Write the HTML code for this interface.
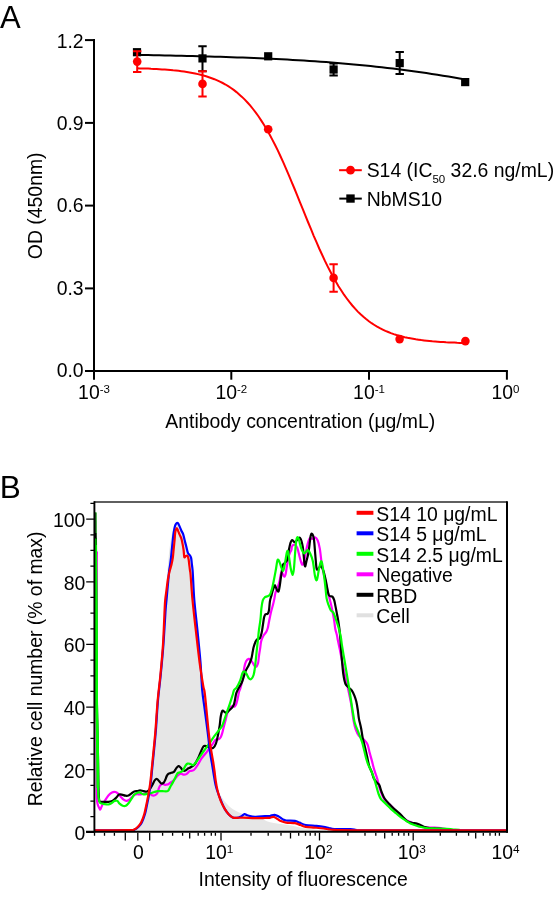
<!DOCTYPE html><html><head><meta charset="utf-8"><style>html,body{margin:0;padding:0;background:#fff;}svg{display:block;will-change:transform;}text{font-family:"Liberation Sans",sans-serif;fill:#000;}</style></head><body>
<svg width="560" height="905" viewBox="0 0 560 905">
<rect width="560" height="905" fill="#fff"/>
<text x="0" y="27.7" font-size="31">A</text>
<g stroke="#000" stroke-width="2" fill="none">
<path d="M94,39.1 V379.7"/>
<path d="M85,370.9 H507.9"/>
<path d="M85,40.1 H94"/>
<path d="M85,122.9 H94"/>
<path d="M85,205.6 H94"/>
<path d="M85,288.4 H94"/>
<path d="M231.3,370.9 V379.7"/>
<path d="M369,370.9 V379.7"/>
<path d="M506.9,370.9 V379.7"/>
</g>
<text x="83.6" y="47.8" font-size="19.4" text-anchor="end">1.2</text>
<text x="83.6" y="129.7" font-size="19.4" text-anchor="end">0.9</text>
<text x="83.6" y="212.1" font-size="19.4" text-anchor="end">0.6</text>
<text x="83.6" y="294.7" font-size="19.4" text-anchor="end">0.3</text>
<text x="83.6" y="376.7" font-size="19.4" text-anchor="end">0.0</text>
<text x="94" y="398.9" font-size="19.4" text-anchor="middle">10<tspan font-size="11.5" dy="-6">-3</tspan></text>
<text x="231.3" y="398.9" font-size="19.4" text-anchor="middle">10<tspan font-size="11.5" dy="-6">-2</tspan></text>
<text x="369" y="398.9" font-size="19.4" text-anchor="middle">10<tspan font-size="11.5" dy="-6">-1</tspan></text>
<text x="505.4" y="398.9" font-size="19.4" text-anchor="middle">10<tspan font-size="11.5" dy="-6">0</tspan></text>
<text x="165.3" y="427.9" font-size="19.4">Antibody concentration (μg/mL)</text>
<text transform="translate(41.8,205.8) rotate(-90)" font-size="19.4" text-anchor="middle">OD (450nm)</text>
<path d="M137.0,54.9 L142.6,55.0 L148.1,55.1 L153.7,55.2 L159.3,55.3 L164.8,55.4 L170.4,55.6 L175.9,55.7 L181.5,55.8 L187.1,55.9 L192.6,56.1 L198.2,56.2 L203.8,56.4 L209.3,56.5 L214.9,56.7 L220.4,56.8 L226.0,57.0 L231.6,57.2 L237.1,57.4 L242.7,57.6 L248.3,57.8 L253.8,58.0 L259.4,58.3 L264.9,58.5 L270.5,58.8 L276.1,59.0 L281.6,59.3 L287.2,59.6 L292.8,59.9 L298.3,60.2 L303.9,60.6 L309.4,60.9 L315.0,61.3 L320.6,61.7 L326.1,62.1 L331.7,62.5 L337.3,63.0 L342.8,63.4 L348.4,63.9 L353.9,64.4 L359.5,65.0 L365.1,65.5 L370.6,66.1 L376.2,66.7 L381.8,67.3 L387.3,67.9 L392.9,68.6 L398.4,69.3 L404.0,70.0 L409.6,70.7 L415.1,71.5 L420.7,72.3 L426.3,73.1 L431.8,73.9 L437.4,74.8 L442.9,75.7 L448.5,76.6 L454.1,77.6 L459.6,78.6 L465.2,79.6" stroke="#000" stroke-width="2" fill="none"/>
<path d="M137.2,68.3 L140.0,68.4 L142.7,68.4 L145.5,68.5 L148.2,68.6 L151.0,68.8 L153.7,68.9 L156.5,69.0 L159.3,69.2 L162.0,69.4 L164.8,69.6 L167.5,69.8 L170.3,70.0 L173.1,70.3 L175.8,70.5 L178.6,70.8 L181.3,71.2 L184.1,71.6 L186.8,72.0 L189.6,72.4 L192.4,72.9 L195.1,73.5 L197.9,74.1 L200.6,74.8 L203.4,75.5 L206.1,76.3 L208.9,77.2 L211.7,78.2 L214.4,79.2 L217.2,80.4 L219.9,81.6 L222.7,83.0 L225.5,84.5 L228.2,86.2 L231.0,88.0 L233.7,89.9 L236.5,92.1 L239.2,94.4 L242.0,96.9 L244.8,99.6 L247.5,102.5 L250.3,105.6 L253.0,109.0 L255.8,112.6 L258.6,116.5 L261.3,120.6 L264.1,124.9 L266.8,129.6 L269.6,134.5 L272.3,139.6 L275.1,145.0 L277.9,150.6 L280.6,156.5 L283.4,162.6 L286.1,168.8 L288.9,175.3 L291.6,181.8 L294.4,188.5 L297.2,195.3 L299.9,202.1 L302.7,208.9 L305.4,215.7 L308.2,222.5 L311.0,229.2 L313.7,235.8 L316.5,242.2 L319.2,248.5 L322.0,254.5 L324.7,260.4 L327.5,266.1 L330.3,271.5 L333.0,276.6 L335.8,281.5 L338.5,286.2 L341.3,290.5 L344.0,294.7 L346.8,298.5 L349.6,302.2 L352.3,305.5 L355.1,308.7 L357.8,311.6 L360.6,314.3 L363.4,316.8 L366.1,319.1 L368.9,321.3 L371.6,323.2 L374.4,325.0 L377.1,326.7 L379.9,328.2 L382.7,329.6 L385.4,330.9 L388.2,332.0 L390.9,333.1 L393.7,334.1 L396.5,335.0 L399.2,335.8 L402.0,336.5 L404.7,337.2 L407.5,337.8 L410.2,338.3 L413.0,338.8 L415.8,339.3 L418.5,339.7 L421.3,340.1 L424.0,340.4 L426.8,340.7 L429.5,341.0 L432.3,341.3 L435.1,341.5 L437.8,341.7 L440.6,341.9 L443.3,342.1 L446.1,342.3 L448.9,342.4 L451.6,342.5 L454.4,342.6 L457.1,342.8 L459.9,342.9 L462.6,342.9 L465.4,343.0" stroke="#f00" stroke-width="2" fill="none"/>
<path d="M202.5,46.2 V71.3 M198.3,46.2 H206.7 M198.3,71.3 H206.7" stroke="#000" stroke-width="2" fill="none"/>
<path d="M333.6,63.6 V75.6 M329.40000000000003,63.6 H337.8 M329.40000000000003,75.6 H337.8" stroke="#000" stroke-width="2" fill="none"/>
<path d="M399.7,52.1 V74.1 M395.5,52.1 H403.9 M395.5,74.1 H403.9" stroke="#000" stroke-width="2" fill="none"/>
<rect x="132.9" y="48.1" width="8.2" height="8.2" fill="#000"/>
<rect x="198.4" y="54.3" width="8.2" height="8.2" fill="#000"/>
<rect x="264.1" y="52.2" width="8.2" height="8.2" fill="#000"/>
<rect x="329.5" y="65.4" width="8.2" height="8.2" fill="#000"/>
<rect x="395.6" y="59.0" width="8.2" height="8.2" fill="#000"/>
<rect x="461.1" y="78.0" width="8.2" height="8.2" fill="#000"/>
<path d="M137.2,51.3 V72.1 M133.0,51.3 H141.39999999999998 M133.0,72.1 H141.39999999999998" stroke="#f00" stroke-width="2" fill="none"/>
<path d="M202.5,71.3 V96.5 M198.3,71.3 H206.7 M198.3,96.5 H206.7" stroke="#f00" stroke-width="2" fill="none"/>
<path d="M333.6,264.3 V291.8 M329.40000000000003,264.3 H337.8 M329.40000000000003,291.8 H337.8" stroke="#f00" stroke-width="2" fill="none"/>
<circle cx="137.2" cy="61.6" r="4.3" fill="#f00"/>
<circle cx="202.5" cy="83.9" r="4.3" fill="#f00"/>
<circle cx="268.2" cy="129.3" r="4.3" fill="#f00"/>
<circle cx="333.6" cy="277.9" r="4.3" fill="#f00"/>
<circle cx="399.6" cy="339.1" r="4.3" fill="#f00"/>
<circle cx="465.4" cy="341.1" r="4.3" fill="#f00"/>
<path d="M339.1,170.2 H361.8" stroke="#f00" stroke-width="2"/>
<circle cx="350.5" cy="170.2" r="4.4" fill="#f00"/>
<text x="366.7" y="177.2" font-size="19.4">S14 (IC<tspan font-size="11.5" dy="6">50</tspan><tspan dy="-6"> 32.6 ng/mL)</tspan></text>
<path d="M339.3,198.6 H361.8" stroke="#000" stroke-width="2"/>
<rect x="346.3" y="194.4" width="8.4" height="8.3" fill="#000"/>
<text x="366.7" y="206.2" font-size="19.4">NbMS10</text>
<text x="-0.3" y="498" font-size="31.5">B</text><path d="M95.00,831.50 C101.00,831.42 124.33,831.28 131.00,831.00 C137.67,830.72 133.67,830.63 135.00,829.80 C136.33,828.97 137.75,827.97 139.00,826.00 C140.25,824.03 141.50,821.00 142.50,818.00 C143.50,815.00 144.25,811.50 145.00,808.00 C145.75,804.50 146.33,800.83 147.00,797.00 C147.67,793.17 148.37,789.83 149.00,785.00 C149.63,780.17 150.22,773.83 150.80,768.00 C151.38,762.17 151.88,756.33 152.50,750.00 C153.12,743.67 153.78,738.33 154.50,730.00 C155.22,721.67 155.97,709.17 156.80,700.00 C157.63,690.83 158.63,684.17 159.50,675.00 C160.37,665.83 161.17,655.83 162.00,645.00 C162.83,634.17 163.83,619.17 164.50,610.00 C165.17,600.83 165.57,595.83 166.00,590.00 C166.43,584.17 166.55,581.55 167.10,575.00 C167.65,568.45 168.58,557.13 169.30,550.70 C170.02,544.27 170.78,539.85 171.40,536.40 C172.02,532.95 172.52,531.65 173.00,530.00 C173.48,528.35 173.90,527.33 174.30,526.50 C174.70,525.67 174.80,525.50 175.40,525.00 C176.00,524.50 177.20,523.27 177.90,523.50 C178.60,523.73 179.02,525.20 179.60,526.40 C180.18,527.60 180.80,529.38 181.40,530.70 C182.00,532.02 182.67,532.75 183.20,534.30 C183.73,535.85 184.07,537.87 184.60,540.00 C185.13,542.13 185.85,544.95 186.40,547.10 C186.95,549.25 187.37,551.58 187.90,552.90 C188.43,554.22 189.07,554.17 189.60,555.00 C190.13,555.83 190.73,556.47 191.10,557.90 C191.47,559.33 191.57,561.70 191.80,563.60 C192.03,565.50 192.32,567.40 192.50,569.30 C192.68,571.20 192.60,569.88 192.90,575.00 C193.20,580.12 193.52,590.50 194.30,600.00 C195.08,609.50 196.57,621.58 197.60,632.00 C198.63,642.42 199.52,653.17 200.50,662.50 C201.48,671.83 202.53,680.08 203.50,688.00 C204.47,695.92 205.52,703.42 206.30,710.00 C207.08,716.58 207.58,722.00 208.20,727.50 C208.82,733.00 209.40,738.58 210.00,743.00 C210.60,747.42 211.22,750.50 211.80,754.00 C212.38,757.50 212.83,759.72 213.50,764.00 C214.17,768.28 214.88,775.03 215.80,779.70 C216.72,784.37 217.80,788.78 219.00,792.00 C220.20,795.22 221.67,797.00 223.00,799.00 C224.33,801.00 225.52,802.40 227.00,804.00 C228.48,805.60 230.40,807.43 231.90,808.60 C233.40,809.77 234.40,810.20 236.00,811.00 C237.60,811.80 239.25,812.73 241.50,813.40 C243.75,814.07 246.42,814.32 249.50,815.00 C252.58,815.68 256.58,816.28 260.00,817.50 C263.42,818.72 265.35,821.05 270.00,822.30 C274.65,823.55 281.95,823.97 287.90,825.00 C293.85,826.03 299.75,827.62 305.70,828.50 C311.65,829.38 314.55,829.88 323.60,830.30 C332.65,830.72 329.43,830.85 360.00,831.00 C390.57,831.15 482.50,831.17 507.00,831.20 L507,832 L95,832 Z" fill="#e6e6e6" stroke="none"/>
<path d="M96.90,551.60 C96.85,554.00 96.67,551.27 96.60,566.00 C96.53,580.73 96.50,617.67 96.50,640.00 C96.50,662.33 96.57,680.00 96.60,700.00 C96.63,720.00 96.67,744.17 96.70,760.00 C96.73,775.83 96.65,787.67 96.80,795.00 C96.95,802.33 97.15,801.75 97.60,804.00 C98.05,806.25 99.03,807.60 99.50,808.50 C99.97,809.40 99.97,809.92 100.40,809.40 C100.83,808.88 101.37,806.82 102.10,805.40 C102.83,803.98 103.75,802.55 104.80,800.90 C105.85,799.25 107.20,796.92 108.40,795.50 C109.60,794.08 110.82,792.98 112.00,792.40 C113.18,791.82 114.47,791.77 115.50,792.00 C116.53,792.23 117.30,792.98 118.20,793.80 C119.10,794.62 120.00,795.93 120.90,796.90 C121.80,797.87 122.70,798.93 123.60,799.60 C124.50,800.27 125.42,800.83 126.30,800.90 C127.18,800.97 128.02,800.60 128.90,800.00 C129.78,799.40 130.70,798.12 131.60,797.30 C132.50,796.48 133.40,795.62 134.30,795.10 C135.20,794.58 136.05,794.32 137.00,794.20 C137.95,794.08 138.90,794.47 140.00,794.40 C141.10,794.33 142.42,793.90 143.60,793.80 C144.78,793.70 146.07,793.80 147.10,793.80 C148.13,793.80 148.90,793.52 149.80,793.80 C150.70,794.08 151.60,795.28 152.50,795.50 C153.40,795.72 154.38,795.53 155.20,795.10 C156.02,794.67 156.80,794.02 157.40,792.90 C158.00,791.78 158.35,789.60 158.80,788.40 C159.25,787.20 159.52,786.45 160.10,785.70 C160.68,784.95 161.48,784.05 162.30,783.90 C163.12,783.75 164.10,784.72 165.00,784.80 C165.90,784.88 166.88,784.70 167.70,784.40 C168.52,784.10 169.17,783.45 169.90,783.00 C170.63,782.55 171.35,782.28 172.10,781.70 C172.85,781.12 173.65,780.32 174.40,779.50 C175.15,778.68 175.87,777.62 176.60,776.80 C177.33,775.98 178.05,775.12 178.80,774.60 C179.55,774.08 180.27,773.70 181.10,773.70 C181.93,773.70 182.92,774.53 183.80,774.60 C184.68,774.67 185.58,774.55 186.40,774.10 C187.22,773.65 188.10,772.42 188.70,771.90 C189.30,771.38 189.13,771.32 190.00,771.00 C190.87,770.68 192.62,771.00 193.90,770.00 C195.18,769.00 196.45,766.90 197.70,765.00 C198.95,763.10 200.07,760.57 201.40,758.60 C202.73,756.63 204.45,754.80 205.70,753.20 C206.95,751.60 207.82,750.42 208.90,749.00 C209.98,747.58 211.12,746.23 212.20,744.70 C213.28,743.17 214.33,740.70 215.40,739.80 C216.47,738.90 217.72,739.73 218.60,739.30 C219.48,738.87 220.08,738.27 220.70,737.20 C221.32,736.13 221.77,734.70 222.30,732.90 C222.83,731.10 223.35,728.55 223.90,726.40 C224.45,724.25 225.05,722.13 225.60,720.00 C226.15,717.87 226.58,715.57 227.20,713.60 C227.82,711.63 228.42,709.45 229.30,708.20 C230.18,706.95 231.60,706.37 232.50,706.10 C233.40,705.83 234.07,706.97 234.70,706.60 C235.33,706.23 235.77,705.42 236.30,703.90 C236.83,702.38 237.45,699.48 237.90,697.50 C238.35,695.52 238.55,693.67 239.00,692.00 C239.45,690.33 239.95,689.88 240.60,687.50 C241.25,685.12 242.30,680.97 242.90,677.70 C243.50,674.43 243.68,670.58 244.20,667.90 C244.72,665.22 245.25,663.10 246.00,661.60 C246.75,660.10 247.88,659.12 248.70,658.90 C249.52,658.68 250.17,659.55 250.90,660.30 C251.63,661.05 252.58,662.58 253.10,663.40 C253.62,664.22 253.55,664.60 254.00,665.20 C254.45,665.80 255.13,667.30 255.80,667.00 C256.47,666.70 257.48,665.18 258.00,663.40 C258.52,661.62 258.52,658.98 258.90,656.30 C259.28,653.62 259.92,649.83 260.30,647.30 C260.68,644.77 260.68,643.03 261.20,641.10 C261.72,639.17 262.58,637.20 263.40,635.70 C264.22,634.20 265.37,633.38 266.10,632.10 C266.83,630.82 267.35,629.57 267.80,628.00 C268.25,626.43 268.30,625.22 268.80,622.70 C269.30,620.18 270.10,615.88 270.80,612.90 C271.50,609.92 272.40,607.18 273.00,604.80 C273.60,602.42 274.00,600.57 274.40,598.60 C274.80,596.63 274.87,594.85 275.40,593.00 C275.93,591.15 276.92,589.45 277.60,587.50 C278.28,585.55 278.97,583.48 279.50,581.30 C280.03,579.12 280.38,575.87 280.80,574.40 C281.22,572.93 281.48,572.18 282.00,572.50 C282.52,572.82 283.33,575.88 283.90,576.30 C284.47,576.72 284.88,576.78 285.40,575.00 C285.92,573.22 286.52,568.42 287.00,565.60 C287.48,562.78 287.83,560.18 288.30,558.10 C288.77,556.02 289.28,554.45 289.80,553.10 C290.32,551.75 291.03,551.12 291.40,550.00 C291.77,548.88 291.45,547.27 292.00,546.40 C292.55,545.53 293.82,544.53 294.70,544.80 C295.58,545.07 296.42,545.77 297.30,548.00 C298.18,550.23 299.18,555.42 300.00,558.20 C300.82,560.98 301.48,564.33 302.20,564.70 C302.92,565.07 303.50,563.45 304.30,560.40 C305.10,557.35 306.10,550.07 307.00,546.40 C307.90,542.73 308.82,539.65 309.70,538.40 C310.58,537.15 311.42,539.08 312.30,538.90 C313.18,538.72 314.10,537.03 315.00,537.30 C315.90,537.57 316.90,538.62 317.70,540.50 C318.50,542.38 319.17,545.02 319.80,548.60 C320.43,552.18 320.97,558.32 321.50,562.00 C322.03,565.68 322.37,567.62 323.00,570.70 C323.63,573.78 324.55,577.22 325.30,580.50 C326.05,583.78 326.77,587.27 327.50,590.40 C328.23,593.53 329.03,596.63 329.70,599.30 C330.37,601.97 330.97,604.02 331.50,606.40 C332.03,608.78 332.45,611.22 332.90,613.60 C333.35,615.98 333.80,618.13 334.20,620.70 C334.60,623.27 334.85,626.62 335.30,629.00 C335.75,631.38 336.48,633.17 336.90,635.00 C337.32,636.83 337.30,637.52 337.80,640.00 C338.30,642.48 339.13,646.10 339.90,649.90 C340.67,653.70 341.57,658.67 342.40,662.80 C343.23,666.93 344.07,670.88 344.90,674.70 C345.73,678.52 346.57,681.88 347.40,685.70 C348.23,689.52 349.23,694.30 349.90,697.60 C350.57,700.90 350.78,701.65 351.40,705.50 C352.02,709.35 352.88,716.73 353.60,720.70 C354.32,724.67 354.82,726.80 355.70,729.30 C356.58,731.80 357.47,733.92 358.90,735.70 C360.33,737.48 362.87,738.57 364.30,740.00 C365.73,741.43 366.60,742.15 367.50,744.30 C368.40,746.45 368.98,750.22 369.70,752.90 C370.42,755.58 371.18,758.08 371.80,760.40 C372.42,762.72 372.87,764.83 373.40,766.80 C373.93,768.77 374.37,770.23 375.00,772.20 C375.63,774.17 376.48,776.10 377.20,778.60 C377.92,781.10 378.50,784.52 379.30,787.20 C380.10,789.88 381.13,792.65 382.00,794.70 C382.87,796.75 383.52,798.17 384.50,799.50 C385.48,800.83 386.53,801.37 387.90,802.70 C389.27,804.03 391.23,805.90 392.70,807.50 C394.17,809.10 395.37,810.82 396.70,812.30 C398.03,813.78 399.23,815.18 400.70,816.40 C402.17,817.62 403.88,818.67 405.50,819.60 C407.12,820.53 408.78,821.20 410.40,822.00 C412.02,822.80 413.60,823.65 415.20,824.40 C416.80,825.15 418.13,825.97 420.00,826.50 C421.87,827.03 423.98,827.42 426.40,827.60 C428.82,827.78 432.08,827.52 434.50,827.60 C436.92,827.68 438.65,827.78 440.90,828.10 C443.15,828.42 446.82,829.27 448.00,829.50" stroke="#ff00ff" stroke-width="2.2" fill="none" stroke-linejoin="round"/>
<path d="M95.90,538.00 C95.97,548.33 96.18,576.33 96.30,600.00 C96.42,623.67 96.45,660.00 96.60,680.00 C96.75,700.00 96.98,708.33 97.20,720.00 C97.42,731.67 97.72,740.83 97.90,750.00 C98.08,759.17 98.18,768.00 98.30,775.00 C98.42,782.00 98.45,787.75 98.60,792.00 C98.75,796.25 98.90,798.87 99.20,800.50 C99.50,802.13 99.62,801.58 100.40,801.80 C101.18,802.02 102.57,801.80 103.90,801.80 C105.23,801.80 107.13,801.88 108.40,801.80 C109.67,801.72 110.53,801.67 111.50,801.30 C112.47,800.93 113.30,800.33 114.20,799.60 C115.10,798.87 116.08,797.73 116.90,796.90 C117.72,796.07 118.28,794.98 119.10,794.60 C119.92,794.22 120.75,794.42 121.80,794.60 C122.85,794.78 124.28,795.55 125.40,795.70 C126.52,795.85 127.47,795.90 128.50,795.50 C129.53,795.10 130.63,793.97 131.60,793.30 C132.57,792.63 133.33,791.87 134.30,791.50 C135.27,791.13 136.45,791.28 137.40,791.10 C138.35,790.92 138.97,790.40 140.00,790.40 C141.03,790.40 142.42,790.92 143.60,791.10 C144.78,791.28 146.07,791.80 147.10,791.50 C148.13,791.20 148.90,790.42 149.80,789.30 C150.70,788.18 151.68,786.28 152.50,784.80 C153.32,783.32 153.95,781.37 154.70,780.40 C155.45,779.43 156.25,778.85 157.00,779.00 C157.75,779.15 158.47,780.55 159.20,781.30 C159.93,782.05 160.65,783.28 161.40,783.50 C162.15,783.72 163.03,783.27 163.70,782.60 C164.37,781.93 164.88,780.62 165.40,779.50 C165.92,778.38 166.27,776.87 166.80,775.90 C167.33,774.93 167.85,774.22 168.60,773.70 C169.35,773.18 170.42,773.10 171.30,772.80 C172.18,772.50 173.08,772.65 173.90,771.90 C174.72,771.15 175.45,769.27 176.20,768.30 C176.95,767.33 177.67,766.23 178.40,766.10 C179.13,765.97 179.83,766.77 180.60,767.50 C181.37,768.23 182.18,770.00 183.00,770.50 C183.82,771.00 184.67,770.83 185.50,770.50 C186.33,770.17 187.13,769.05 188.00,768.50 C188.87,767.95 189.62,767.87 190.70,767.20 C191.78,766.53 193.33,765.85 194.50,764.50 C195.67,763.15 196.63,761.25 197.70,759.10 C198.77,756.95 199.92,753.73 200.90,751.60 C201.88,749.47 202.62,747.18 203.60,746.30 C204.58,745.42 205.73,746.03 206.80,746.30 C207.87,746.57 208.93,747.63 210.00,747.90 C211.07,748.17 212.22,748.62 213.20,747.90 C214.18,747.18 215.10,745.75 215.90,743.60 C216.70,741.45 217.37,738.03 218.00,735.00 C218.63,731.97 219.25,728.43 219.70,725.40 C220.15,722.37 220.27,719.22 220.70,716.80 C221.13,714.38 221.77,711.80 222.30,710.90 C222.83,710.00 223.27,711.05 223.90,711.40 C224.53,711.75 225.38,713.00 226.10,713.00 C226.82,713.00 227.48,712.02 228.20,711.40 C228.92,710.78 229.68,710.02 230.40,709.30 C231.12,708.58 231.88,708.00 232.50,707.10 C233.12,706.20 233.65,705.32 234.10,703.90 C234.55,702.48 234.83,700.38 235.20,698.60 C235.57,696.82 235.77,694.90 236.30,693.20 C236.83,691.50 237.45,690.25 238.40,688.40 C239.35,686.55 240.82,684.93 242.00,682.10 C243.18,679.27 244.38,674.22 245.50,671.40 C246.62,668.58 247.73,667.28 248.70,665.20 C249.67,663.12 250.63,661.13 251.30,658.90 C251.97,656.67 252.32,653.73 252.70,651.80 C253.08,649.87 253.15,648.93 253.60,647.30 C254.05,645.67 254.82,643.33 255.40,642.00 C255.98,640.67 256.37,639.90 257.10,639.30 C257.83,638.70 259.05,639.45 259.80,638.40 C260.55,637.35 261.08,635.23 261.60,633.00 C262.12,630.77 262.48,627.62 262.90,625.00 C263.32,622.38 263.68,619.10 264.10,617.30 C264.52,615.50 264.80,614.78 265.40,614.20 C266.00,613.62 267.10,614.47 267.70,613.80 C268.30,613.13 268.63,612.28 269.00,610.20 C269.37,608.12 269.52,603.68 269.90,601.30 C270.28,598.92 270.85,597.62 271.30,595.90 C271.75,594.18 272.07,592.72 272.60,591.00 C273.13,589.28 274.03,586.38 274.50,585.60 C274.97,584.82 274.98,585.57 275.40,586.30 C275.82,587.03 276.47,589.17 277.00,590.00 C277.53,590.83 278.13,592.03 278.60,591.30 C279.07,590.57 279.43,587.80 279.80,585.60 C280.17,583.40 280.48,580.38 280.80,578.10 C281.12,575.82 281.40,573.98 281.70,571.90 C282.00,569.82 282.23,566.95 282.60,565.60 C282.97,564.25 283.37,564.42 283.90,563.80 C284.43,563.18 285.23,562.63 285.80,561.90 C286.37,561.17 286.78,561.38 287.30,559.40 C287.82,557.42 288.40,552.65 288.90,550.00 C289.40,547.35 289.78,545.17 290.30,543.50 C290.82,541.83 291.27,540.23 292.00,540.00 C292.73,539.77 293.82,542.10 294.70,542.10 C295.58,542.10 296.42,540.70 297.30,540.00 C298.18,539.30 299.10,536.83 300.00,537.90 C300.90,538.97 301.90,541.77 302.70,546.40 C303.50,551.03 304.18,563.20 304.80,565.70 C305.42,568.20 305.77,563.72 306.40,561.40 C307.03,559.08 307.88,556.08 308.60,551.80 C309.32,547.52 310.08,538.65 310.70,535.70 C311.32,532.75 311.77,533.57 312.30,534.10 C312.83,534.63 313.40,535.42 313.90,538.90 C314.40,542.38 314.87,550.15 315.30,555.00 C315.73,559.85 316.10,565.58 316.50,568.00 C316.90,570.42 317.18,569.67 317.70,569.50 C318.22,569.33 319.00,567.50 319.60,567.00 C320.20,566.50 320.65,565.83 321.30,566.50 C321.95,567.17 322.77,568.75 323.50,571.00 C324.23,573.25 324.88,576.18 325.70,580.00 C326.52,583.82 327.65,591.20 328.40,593.90 C329.15,596.60 329.53,595.75 330.20,596.20 C330.87,596.65 331.73,595.93 332.40,596.60 C333.07,597.27 333.68,598.57 334.20,600.20 C334.72,601.83 335.05,604.17 335.50,606.40 C335.95,608.63 336.45,611.22 336.90,613.60 C337.35,615.98 337.78,618.13 338.20,620.70 C338.62,623.27 339.05,626.12 339.40,629.00 C339.75,631.88 339.88,632.87 340.30,638.00 C340.72,643.13 341.38,653.68 341.90,659.80 C342.42,665.92 342.82,670.72 343.40,674.70 C343.98,678.68 344.48,681.53 345.40,683.70 C346.32,685.87 347.82,686.55 348.90,687.70 C349.98,688.85 350.98,689.28 351.90,690.60 C352.82,691.92 353.67,693.77 354.40,695.60 C355.13,697.43 355.73,699.20 356.30,701.60 C356.87,704.00 357.37,707.17 357.80,710.00 C358.23,712.83 358.35,715.57 358.90,718.60 C359.45,721.63 360.47,724.98 361.10,728.20 C361.73,731.42 362.08,734.87 362.70,737.90 C363.32,740.93 364.08,743.37 364.80,746.40 C365.52,749.43 366.28,752.88 367.00,756.10 C367.72,759.32 368.30,763.02 369.10,765.70 C369.90,768.38 371.00,770.05 371.80,772.20 C372.60,774.35 373.00,776.82 373.90,778.60 C374.80,780.38 376.30,781.83 377.20,782.90 C378.10,783.97 378.57,783.48 379.30,785.00 C380.03,786.52 380.72,789.75 381.60,792.00 C382.48,794.25 383.28,796.45 384.60,798.50 C385.92,800.55 387.88,802.53 389.50,804.30 C391.12,806.07 392.70,807.63 394.30,809.10 C395.90,810.57 397.63,811.75 399.10,813.10 C400.57,814.45 401.75,815.85 403.10,817.20 C404.45,818.55 405.72,820.27 407.20,821.20 C408.68,822.13 410.40,822.40 412.00,822.80 C413.60,823.20 415.33,823.20 416.80,823.60 C418.27,824.00 419.47,824.62 420.80,825.20 C422.13,825.78 423.32,826.62 424.80,827.10 C426.28,827.58 428.08,827.88 429.70,828.10 C431.32,828.32 432.90,828.30 434.50,828.40 C436.10,828.50 437.55,828.52 439.30,828.70 C441.05,828.88 444.05,829.37 445.00,829.50" stroke="#000" stroke-width="2.2" fill="none" stroke-linejoin="round"/>
<path d="M95.30,512.60 C95.33,518.00 95.40,533.77 95.50,545.00 C95.60,556.23 95.77,567.50 95.90,580.00 C96.03,592.50 96.21,606.67 96.30,620.00 C96.39,633.33 96.40,646.67 96.45,660.00 C96.50,673.33 96.47,688.33 96.60,700.00 C96.72,711.67 97.02,720.00 97.20,730.00 C97.38,740.00 97.58,750.83 97.70,760.00 C97.82,769.17 97.78,779.00 97.90,785.00 C98.02,791.00 98.15,793.28 98.40,796.00 C98.65,798.72 99.07,800.12 99.40,801.30 C99.73,802.48 99.65,802.65 100.40,803.10 C101.15,803.55 102.57,803.77 103.90,804.00 C105.23,804.23 107.13,804.65 108.40,804.50 C109.67,804.35 110.47,803.70 111.50,803.10 C112.53,802.50 113.63,801.27 114.60,800.90 C115.57,800.53 116.47,800.45 117.30,800.90 C118.13,801.35 118.70,802.78 119.60,803.60 C120.50,804.42 121.67,805.43 122.70,805.80 C123.73,806.17 124.77,806.32 125.80,805.80 C126.83,805.28 127.93,803.88 128.90,802.70 C129.87,801.52 130.70,800.05 131.60,798.70 C132.50,797.35 133.40,795.57 134.30,794.60 C135.20,793.63 136.12,793.27 137.00,792.90 C137.88,792.53 138.50,792.15 139.60,792.40 C140.70,792.65 142.35,794.17 143.60,794.40 C144.85,794.63 145.92,793.98 147.10,793.80 C148.28,793.62 149.50,793.60 150.70,793.30 C151.90,793.00 153.10,792.37 154.30,792.00 C155.50,791.63 156.57,791.25 157.90,791.10 C159.23,790.95 160.67,791.10 162.30,791.10 C163.93,791.10 166.35,791.85 167.70,791.10 C169.05,790.35 169.52,788.10 170.40,786.60 C171.28,785.10 172.18,783.58 173.00,782.10 C173.82,780.62 174.55,779.18 175.30,777.70 C176.05,776.22 176.68,774.10 177.50,773.20 C178.32,772.30 179.30,772.75 180.20,772.30 C181.10,771.85 182.02,771.62 182.90,770.50 C183.78,769.38 184.72,766.75 185.50,765.60 C186.28,764.45 186.77,763.87 187.60,763.60 C188.43,763.33 189.53,763.77 190.50,764.00 C191.47,764.23 192.30,765.55 193.40,765.00 C194.50,764.45 195.77,762.48 197.10,760.70 C198.43,758.92 199.97,756.35 201.40,754.30 C202.83,752.25 204.27,750.37 205.70,748.40 C207.13,746.43 208.57,744.55 210.00,742.50 C211.43,740.45 212.87,738.07 214.30,736.10 C215.73,734.13 217.27,732.48 218.60,730.70 C219.93,728.92 221.23,727.53 222.30,725.40 C223.37,723.27 224.18,720.23 225.00,717.90 C225.82,715.57 226.40,713.73 227.20,711.40 C228.00,709.07 228.92,706.57 229.80,703.90 C230.68,701.23 231.78,697.72 232.50,695.40 C233.22,693.08 233.42,691.32 234.10,690.00 C234.78,688.68 235.58,689.10 236.60,687.50 C237.62,685.90 239.23,682.78 240.20,680.40 C241.17,678.02 241.73,674.70 242.40,673.20 C243.07,671.70 243.53,671.32 244.20,671.40 C244.87,671.48 245.58,672.50 246.40,673.70 C247.22,674.90 248.28,677.72 249.10,678.60 C249.92,679.48 250.55,679.60 251.30,679.00 C252.05,678.40 253.00,676.85 253.60,675.00 C254.20,673.15 254.53,670.43 254.90,667.90 C255.27,665.37 255.50,662.63 255.80,659.80 C256.10,656.97 256.33,654.32 256.70,650.90 C257.07,647.48 257.63,642.72 258.00,639.30 C258.37,635.88 258.48,633.77 258.90,630.40 C259.32,627.03 260.08,622.77 260.50,619.10 C260.92,615.43 261.02,611.52 261.40,608.40 C261.78,605.28 262.20,602.27 262.80,600.40 C263.40,598.53 264.22,597.88 265.00,597.20 C265.78,596.52 266.65,596.77 267.50,596.30 C268.35,595.83 269.35,595.65 270.10,594.40 C270.85,593.15 271.37,591.20 272.00,588.80 C272.63,586.40 273.27,583.13 273.90,580.00 C274.53,576.87 275.18,573.33 275.80,570.00 C276.42,566.67 276.98,561.35 277.60,560.00 C278.22,558.65 278.87,560.65 279.50,561.90 C280.13,563.15 280.77,566.05 281.40,567.50 C282.03,568.95 282.68,571.43 283.30,570.60 C283.92,569.77 284.53,565.42 285.10,562.50 C285.67,559.58 286.25,555.02 286.70,553.10 C287.15,551.18 287.43,550.47 287.80,551.00 C288.17,551.53 288.40,553.33 288.90,556.30 C289.40,559.27 290.18,565.68 290.80,568.80 C291.42,571.92 292.08,575.00 292.60,575.00 C293.12,575.00 293.48,572.47 293.90,568.80 C294.32,565.13 294.72,557.63 295.10,553.00 C295.48,548.37 295.83,543.62 296.20,541.00 C296.57,538.38 296.85,537.55 297.30,537.30 C297.75,537.05 298.27,537.72 298.90,539.50 C299.53,541.28 300.20,545.68 301.10,548.00 C302.00,550.32 303.23,553.03 304.30,553.40 C305.37,553.77 306.52,550.20 307.50,550.20 C308.48,550.20 309.30,551.53 310.20,553.40 C311.10,555.27 312.10,557.63 312.90,561.40 C313.70,565.17 314.33,572.90 315.00,576.00 C315.67,579.10 316.27,581.00 316.90,580.00 C317.53,579.00 318.18,572.92 318.80,570.00 C319.42,567.08 320.10,563.83 320.60,562.50 C321.10,561.17 321.37,560.75 321.80,562.00 C322.23,563.25 322.73,567.00 323.20,570.00 C323.67,573.00 324.20,576.83 324.60,580.00 C325.00,583.17 325.27,585.93 325.60,589.00 C325.93,592.07 326.13,595.80 326.60,598.40 C327.07,601.00 327.73,602.67 328.40,604.60 C329.07,606.53 329.78,608.65 330.60,610.00 C331.42,611.35 332.55,611.52 333.30,612.70 C334.05,613.88 334.43,615.32 335.10,617.10 C335.77,618.88 336.63,621.32 337.30,623.40 C337.97,625.48 338.50,627.25 339.10,629.60 C339.70,631.95 340.43,634.95 340.90,637.50 C341.37,640.05 341.32,641.18 341.90,644.90 C342.48,648.62 343.57,654.83 344.40,659.80 C345.23,664.77 346.07,669.73 346.90,674.70 C347.73,679.67 348.60,684.55 349.40,689.60 C350.20,694.65 351.02,700.60 351.70,705.00 C352.38,709.40 352.98,713.00 353.50,716.00 C354.02,719.00 353.90,720.07 354.80,723.00 C355.70,725.93 357.68,730.40 358.90,733.60 C360.12,736.80 361.20,739.35 362.10,742.20 C363.00,745.05 363.58,747.85 364.30,750.70 C365.02,753.55 365.68,756.80 366.40,759.30 C367.12,761.80 367.70,763.55 368.60,765.70 C369.50,767.85 370.82,769.87 371.80,772.20 C372.78,774.53 373.70,777.20 374.50,779.70 C375.30,782.20 375.92,784.82 376.60,787.20 C377.28,789.58 377.87,792.00 378.60,794.00 C379.33,796.00 380.27,798.02 381.00,799.20 C381.73,800.38 381.98,800.12 383.00,801.10 C384.02,802.08 385.75,803.77 387.10,805.10 C388.45,806.43 389.63,807.77 391.10,809.10 C392.57,810.43 394.30,811.75 395.90,813.10 C397.50,814.45 399.10,815.98 400.70,817.20 C402.30,818.42 403.88,819.33 405.50,820.40 C407.12,821.47 408.78,822.80 410.40,823.60 C412.02,824.40 413.60,824.67 415.20,825.20 C416.80,825.73 418.13,826.32 420.00,826.80 C421.87,827.28 424.25,827.83 426.40,828.10 C428.55,828.37 430.22,828.30 432.90,828.40 C435.58,828.50 439.55,828.57 442.50,828.70 C445.45,828.83 448.45,829.03 450.60,829.20 C452.75,829.37 453.83,829.57 455.40,829.70 C456.97,829.83 459.23,829.95 460.00,830.00" stroke="#00ff00" stroke-width="2.2" fill="none" stroke-linejoin="round"/>
<path d="M95.00,830.30 C100.83,830.28 123.45,830.28 130.00,830.20 C136.55,830.12 132.87,830.37 134.30,829.80 C135.73,829.23 137.35,828.02 138.60,826.80 C139.85,825.58 140.73,824.63 141.80,822.50 C142.87,820.37 144.15,816.85 145.00,814.00 C145.85,811.15 146.23,808.63 146.90,805.40 C147.57,802.17 148.37,798.27 149.00,794.60 C149.63,790.93 150.15,787.93 150.70,783.40 C151.25,778.87 151.75,772.90 152.30,767.40 C152.85,761.90 153.40,756.63 154.00,750.40 C154.60,744.17 155.23,738.40 155.90,730.00 C156.57,721.60 157.20,709.17 158.00,700.00 C158.80,690.83 159.80,684.23 160.70,675.00 C161.60,665.77 162.58,655.43 163.40,644.60 C164.22,633.77 165.08,617.43 165.60,610.00 C166.12,602.57 166.20,603.33 166.50,600.00 C166.80,596.67 167.10,593.30 167.40,590.00 C167.70,586.70 168.00,583.47 168.30,580.20 C168.60,576.93 168.90,572.93 169.20,570.40 C169.50,567.87 169.80,567.08 170.10,565.00 C170.40,562.92 170.70,560.58 171.00,557.90 C171.30,555.22 171.60,551.88 171.90,548.90 C172.20,545.92 172.48,542.82 172.80,540.00 C173.12,537.18 173.43,534.33 173.80,532.00 C174.17,529.67 174.58,527.42 175.00,526.00 C175.42,524.58 175.82,523.97 176.30,523.50 C176.78,523.03 177.35,522.72 177.90,523.20 C178.45,523.68 179.02,525.15 179.60,526.40 C180.18,527.65 180.80,529.38 181.40,530.70 C182.00,532.02 182.67,532.75 183.20,534.30 C183.73,535.85 184.07,537.87 184.60,540.00 C185.13,542.13 185.85,544.95 186.40,547.10 C186.95,549.25 187.37,551.58 187.90,552.90 C188.43,554.22 189.07,554.17 189.60,555.00 C190.13,555.83 190.73,556.47 191.10,557.90 C191.47,559.33 191.57,561.70 191.80,563.60 C192.03,565.50 192.32,567.40 192.50,569.30 C192.68,571.20 192.60,569.88 192.90,575.00 C193.20,580.12 193.52,590.50 194.30,600.00 C195.08,609.50 196.57,621.58 197.60,632.00 C198.63,642.42 199.73,652.83 200.50,662.50 C201.27,672.17 201.50,682.20 202.20,690.00 C202.90,697.80 203.93,703.40 204.70,709.30 C205.47,715.20 206.18,720.58 206.80,725.40 C207.42,730.22 207.87,733.73 208.40,738.20 C208.93,742.67 209.37,747.73 210.00,752.20 C210.63,756.67 211.57,761.20 212.20,765.00 C212.83,768.80 213.23,771.67 213.80,775.00 C214.37,778.33 214.90,782.00 215.60,785.00 C216.30,788.00 217.10,790.40 218.00,793.00 C218.90,795.60 219.90,798.00 221.00,800.60 C222.10,803.20 223.33,806.33 224.60,808.60 C225.87,810.87 227.25,812.73 228.60,814.20 C229.95,815.67 231.35,816.78 232.70,817.40 C234.05,818.02 235.32,818.05 236.70,817.90 C238.08,817.75 239.70,817.12 241.00,816.50 C242.30,815.88 243.33,814.37 244.50,814.20 C245.67,814.03 246.25,815.07 248.00,815.50 C249.75,815.93 252.17,816.68 255.00,816.80 C257.83,816.92 262.50,816.33 265.00,816.20 C267.50,816.07 268.42,816.23 270.00,816.00 C271.58,815.77 273.02,814.70 274.50,814.80 C275.98,814.90 277.57,815.88 278.90,816.60 C280.23,817.32 281.30,818.45 282.50,819.10 C283.70,819.75 284.02,820.20 286.10,820.50 C288.18,820.80 292.77,820.55 295.00,820.90 C297.23,821.25 297.72,821.92 299.50,822.60 C301.28,823.28 302.88,824.45 305.70,825.00 C308.52,825.55 313.42,825.60 316.40,825.90 C319.38,826.20 321.52,826.45 323.60,826.80 C325.68,827.15 327.12,827.62 328.90,828.00 C330.68,828.38 330.72,828.92 334.30,829.10 C337.88,829.28 346.83,828.98 350.40,829.10 C353.97,829.22 354.10,829.60 355.70,829.80 C357.30,830.00 334.78,830.22 360.00,830.30 C385.22,830.38 482.50,830.30 507.00,830.30" stroke="#0000ff" stroke-width="2.2" fill="none" stroke-linejoin="round"/>
<path d="M95.00,830.30 C100.83,830.28 123.57,830.28 130.00,830.20 C136.43,830.12 132.28,830.37 133.60,829.80 C134.92,829.23 136.65,828.02 137.90,826.80 C139.15,825.58 140.03,824.63 141.10,822.50 C142.17,820.37 143.45,816.85 144.30,814.00 C145.15,811.15 145.52,808.63 146.20,805.40 C146.88,802.17 147.73,798.27 148.40,794.60 C149.07,790.93 149.62,787.93 150.20,783.40 C150.78,778.87 151.33,772.90 151.90,767.40 C152.47,761.90 153.00,756.63 153.60,750.40 C154.20,744.17 154.82,738.40 155.50,730.00 C156.18,721.60 156.88,709.17 157.70,700.00 C158.52,690.83 159.52,684.23 160.40,675.00 C161.28,665.77 162.30,655.43 163.00,644.60 C163.70,633.77 164.23,617.43 164.60,610.00 C164.97,602.57 164.88,603.33 165.20,600.00 C165.52,596.67 166.05,593.45 166.50,590.00 C166.95,586.55 167.38,582.42 167.90,579.30 C168.42,576.18 169.02,573.68 169.60,571.30 C170.18,568.92 170.87,567.23 171.40,565.00 C171.93,562.77 172.42,560.58 172.80,557.90 C173.18,555.22 173.40,551.88 173.70,548.90 C174.00,545.92 174.33,542.82 174.60,540.00 C174.87,537.18 174.93,533.97 175.30,532.00 C175.67,530.03 176.32,528.35 176.80,528.20 C177.28,528.05 177.73,530.03 178.20,531.10 C178.67,532.17 179.07,533.35 179.60,534.60 C180.13,535.85 180.92,537.10 181.40,538.60 C181.88,540.10 182.13,541.70 182.50,543.60 C182.87,545.50 183.30,547.75 183.60,550.00 C183.90,552.25 183.95,556.08 184.30,557.10 C184.65,558.12 185.17,556.33 185.70,556.10 C186.23,555.87 187.02,555.17 187.50,555.70 C187.98,556.23 188.30,557.75 188.60,559.30 C188.90,560.85 189.07,563.10 189.30,565.00 C189.53,566.90 189.78,569.03 190.00,570.70 C190.22,572.37 190.18,570.12 190.60,575.00 C191.02,579.88 191.60,590.50 192.50,600.00 C193.40,609.50 194.82,621.58 196.00,632.00 C197.18,642.42 198.40,653.55 199.60,662.50 C200.80,671.45 202.37,680.78 203.20,685.70 C204.03,690.62 204.05,687.95 204.60,692.00 C205.15,696.05 205.90,704.08 206.50,710.00 C207.10,715.92 207.62,722.00 208.20,727.50 C208.78,733.00 209.40,738.58 210.00,743.00 C210.60,747.42 211.27,750.83 211.80,754.00 C212.33,757.17 212.75,759.17 213.20,762.00 C213.65,764.83 214.10,768.00 214.50,771.00 C214.90,774.00 215.12,776.83 215.60,780.00 C216.08,783.17 216.57,786.57 217.40,790.00 C218.23,793.43 219.40,797.50 220.60,800.60 C221.80,803.70 223.27,806.33 224.60,808.60 C225.93,810.87 227.25,812.73 228.60,814.20 C229.95,815.67 231.35,816.78 232.70,817.40 C234.05,818.02 234.97,817.87 236.70,817.90 C238.43,817.93 240.05,817.55 243.10,817.60 C246.15,817.65 251.35,818.13 255.00,818.20 C258.65,818.27 262.50,818.07 265.00,818.00 C267.50,817.93 268.57,817.98 270.00,817.80 C271.43,817.62 272.42,816.75 273.60,816.90 C274.78,817.05 275.92,818.03 277.10,818.70 C278.28,819.37 279.20,820.25 280.70,820.90 C282.20,821.55 283.72,822.22 286.10,822.60 C288.48,822.98 292.62,822.80 295.00,823.20 C297.38,823.60 298.62,824.40 300.40,825.00 C302.18,825.60 303.33,826.37 305.70,826.80 C308.07,827.23 311.62,827.32 314.60,827.60 C317.58,827.88 321.22,828.20 323.60,828.50 C325.98,828.80 327.12,829.18 328.90,829.40 C330.68,829.62 329.83,829.65 334.30,829.80 C338.77,829.95 326.92,830.22 355.70,830.30 C384.48,830.38 481.78,830.30 507.00,830.30" stroke="#ff0000" stroke-width="2.2" fill="none" stroke-linejoin="round"/>
<path d="M95.4,512.6 L95.5,533" stroke="#1d6b1d" stroke-width="2.2" fill="none"/>
<path d="M95.5,533 L95.6,538.5" stroke="#000" stroke-width="2.2" fill="none"/>
<path d="M95.5,545 L95.9,580 L96.3,620 L96.45,660 L96.6,700 L97.2,730 L97.7,760 L97.9,788" stroke="#00ff00" stroke-width="2.8" fill="none" stroke-linejoin="round"/>
<path d="M94,502 H507" stroke="#2a2a2a" stroke-width="1.5" fill="none"/>
<path d="M507,501.3 V832.7" stroke="#000" stroke-width="2" fill="none"/>
<path d="M94.4,501.3 V832.7" stroke="#000" stroke-width="1.9" fill="none"/>
<path d="M86,831.7 H508" stroke="#000" stroke-width="2" fill="none"/>
<path d="M86.2,832.4 H94 M90.4,816.7 H94 M90.4,801.1 H94 M90.4,785.4 H94 M86.2,769.7 H94 M90.4,754.1 H94 M90.4,738.4 H94 M90.4,722.7 H94 M86.2,707.1 H94 M90.4,691.4 H94 M90.4,675.8 H94 M90.4,660.1 H94 M86.2,644.4 H94 M90.4,628.8 H94 M90.4,613.1 H94 M90.4,597.4 H94 M86.2,581.8 H94 M90.4,566.1 H94 M90.4,550.4 H94 M90.4,534.8 H94 M86.2,519.1 H94 M90.4,503.4 H94" stroke="#000" stroke-width="1.3" fill="none"/>
<text x="85.3" y="840.3" font-size="19.4" text-anchor="end">0</text>
<text x="85.3" y="777.6" font-size="19.4" text-anchor="end">20</text>
<text x="85.3" y="715.0" font-size="19.4" text-anchor="end">40</text>
<text x="85.3" y="652.3" font-size="19.4" text-anchor="end">60</text>
<text x="85.3" y="589.7" font-size="19.4" text-anchor="end">80</text>
<text x="85.3" y="527.0" font-size="19.4" text-anchor="end">100</text>
<path d="M125.3,832.7 V840.5 M137.8,832.7 V840.5 M149.7,832.7 V840.5 M221,832.7 V840.5 M319.5,832.7 V840.5 M413.2,832.7 V840.5 M189.7,832.7 V838.6 M290.5,832.7 V838.6 M384.7,832.7 V838.6 M475.7,832.7 V838.6 M94.5,832.7 V835.8 M104.5,832.7 V835.8 M114.4,832.7 V835.8 M162.6,832.7 V835.8 M172.6,832.7 V835.8 M182.6,832.7 V835.8 M198.2,832.7 V835.8 M204.6,832.7 V835.8 M211.3,832.7 V835.8 M215.4,832.7 V835.8 M251,832.7 V835.8 M268.2,832.7 V835.8 M281,832.7 V835.8 M298.7,832.7 V835.8 M305.5,832.7 V835.8 M310.2,832.7 V835.8 M315.2,832.7 V835.8 M347.9,832.7 V835.8 M365,832.7 V835.8 M375.8,832.7 V835.8 M392.2,832.7 V835.8 M398.6,832.7 V835.8 M404,832.7 V835.8 M408.6,832.7 V835.8 M440.3,832.7 V835.8 M456.4,832.7 V835.8 M468.6,832.7 V835.8 M483.3,832.7 V835.8 M490,832.7 V835.8 M495.4,832.7 V835.8 M499.4,832.7 V835.8" stroke="#000" stroke-width="1.3" fill="none"/>
<text x="138.5" y="858.8" font-size="19.4" text-anchor="middle">0</text>
<text x="219.2" y="858.9" font-size="19.4" text-anchor="middle">10<tspan font-size="11.8" dy="-6.2">1</tspan></text>
<text x="318.4" y="858.9" font-size="19.4" text-anchor="middle">10<tspan font-size="11.8" dy="-6.2">2</tspan></text>
<text x="411.7" y="858.9" font-size="19.4" text-anchor="middle">10<tspan font-size="11.8" dy="-6.2">3</tspan></text>
<text x="505.5" y="858.9" font-size="19.4" text-anchor="middle">10<tspan font-size="11.8" dy="-6.2">4</tspan></text>
<text x="198.6" y="885.9" font-size="19.4">Intensity of fluorescence</text>
<text transform="translate(41.8,668.9) rotate(-90)" font-size="19.4" text-anchor="middle">Relative cell number (% of max)</text>
<path d="M356.6,512.8 H373.4" stroke="#ff0000" stroke-width="4" fill="none"/>
<text x="376.3" y="520.9" font-size="19.4">S14 10 μg/mL</text>
<path d="M356.6,533.3 H373.4" stroke="#0000ff" stroke-width="4" fill="none"/>
<text x="376.3" y="541.4" font-size="19.4">S14 5 μg/mL</text>
<path d="M356.6,553.8 H373.4" stroke="#00ff00" stroke-width="4" fill="none"/>
<text x="376.3" y="561.9" font-size="19.4">S14 2.5 μg/mL</text>
<path d="M356.6,574.3 H373.4" stroke="#ff00ff" stroke-width="4" fill="none"/>
<text x="376.3" y="582.4" font-size="19.4">Negative</text>
<path d="M356.6,594.8 H373.4" stroke="#000000" stroke-width="4" fill="none"/>
<text x="376.3" y="602.9" font-size="19.4">RBD</text>
<path d="M356.6,615.3 H373.4" stroke="#e0e0e0" stroke-width="4" fill="none"/>
<text x="376.3" y="623.4" font-size="19.4">Cell</text>
</svg></body></html>
